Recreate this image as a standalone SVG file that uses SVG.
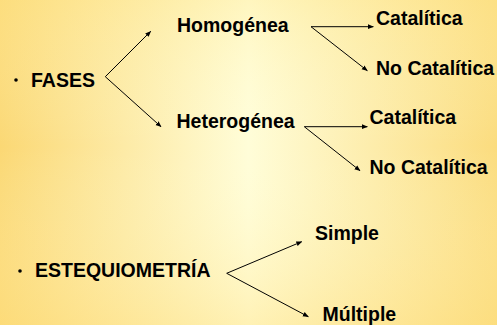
<svg xmlns="http://www.w3.org/2000/svg" width="497" height="325" viewBox="0 0 497 325">
<defs>
<linearGradient id="bg" x1="0" y1="0" x2="1" y2="0">
<stop offset="0" stop-color="#FBD874"/>
<stop offset="0.5" stop-color="#FFFDD8"/>
<stop offset="1" stop-color="#FBDC7E"/>
</linearGradient>
<linearGradient id="bgv" x1="0" y1="0" x2="0" y2="1">
<stop offset="0" stop-color="#FFE890" stop-opacity="0.35"/>
<stop offset="0.45" stop-color="#FFFFE0" stop-opacity="0"/>
<stop offset="1" stop-color="#FFE080" stop-opacity="0.4"/>
</linearGradient>
<marker id="ah" viewBox="0 0 10 10" refX="9" refY="5" markerWidth="6" markerHeight="6" markerUnits="userSpaceOnUse" orient="auto">
<path d="M0,1 L10,5 L0,9 z" fill="#000"/>
</marker>
<style>
.t{font-family:"Liberation Sans",Arial,sans-serif;font-weight:bold;font-size:19.5px;fill:#000}
.c{stroke:#000;stroke-width:1;fill:none;marker-end:url(#ah)}
</style>
</defs>
<rect width="497" height="325" fill="url(#bg)"/>
<rect width="497" height="325" fill="url(#bgv)"/>
<g id="connectors">
<path class="c" d="M105.3,76.7 L150.7,31.3"/>
<path class="c" d="M105.3,76.7 L161,126.7"/>
<path class="c" d="M311,26.7 L373.3,26.7"/>
<path class="c" d="M311,26.7 L367.3,70.7"/>
<path class="c" d="M304.3,126.7 L367.3,126.7"/>
<path class="c" d="M304.3,126.7 L360,170.7"/>
<path class="c" d="M226.7,273.3 L301.7,241.7"/>
<path class="c" d="M226.7,273.3 L308.3,316.7"/>
</g>
<g id="fases"><circle cx="16" cy="80" r="1.8"/><text class="t" x="31" y="87">FASES</text></g>
<g id="homogenea"><text class="t" x="177" y="32">Homogénea</text></g>
<g id="heterogenea"><text class="t" x="176.5" y="128">Heterogénea</text></g>
<g id="catalitica1"><text class="t" x="376" y="25">Catalítica</text></g>
<g id="nocatalitica1"><text class="t" x="376" y="75">No Catalítica</text></g>
<g id="catalitica2"><text class="t" x="369.5" y="124">Catalítica</text></g>
<g id="nocatalitica2"><text class="t" x="369.5" y="174">No Catalítica</text></g>
<g id="estequiometria"><circle cx="20" cy="271" r="1.8"/><text class="t" x="35" y="277">ESTEQUIOMETRÍA</text></g>
<g id="simple"><text class="t" x="315" y="239.5">Simple</text></g>
<g id="multiple"><text class="t" x="322.5" y="321">Múltiple</text></g>
</svg>
